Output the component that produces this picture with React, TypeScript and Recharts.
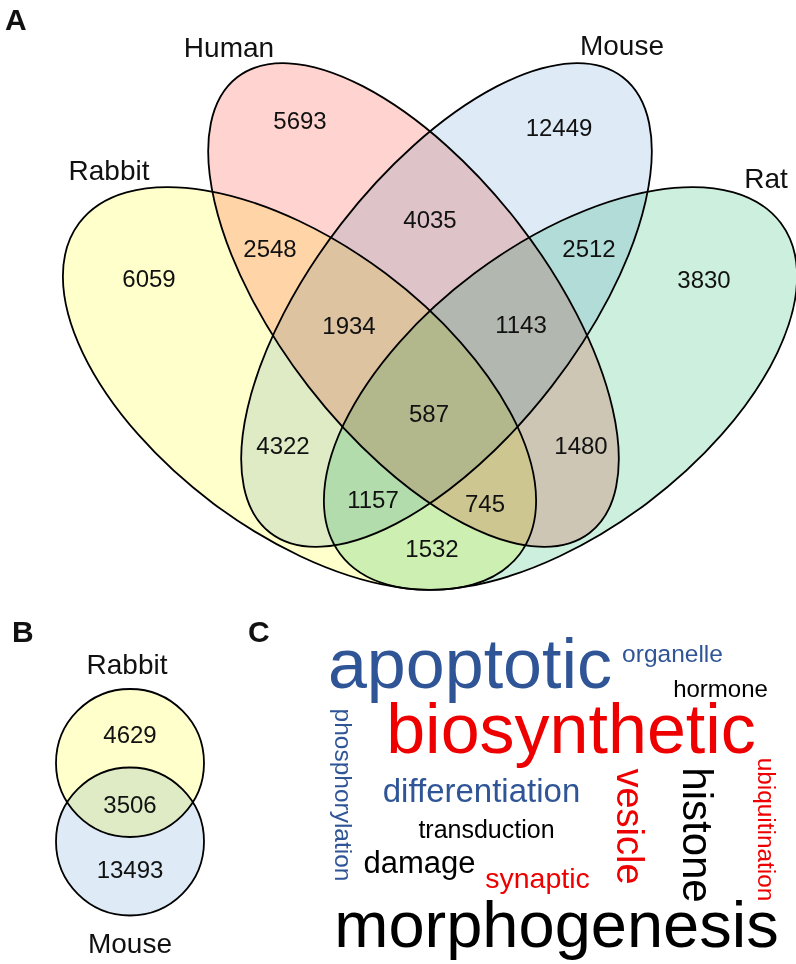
import { Scatter, ScatterChart, XAxis, YAxis } from 'recharts'

const W = 796
const H = 964
const FONT = '"Liberation Sans", Arial, Helvetica, sans-serif'

// ---- data ----
const SPECIES = ['Rabbit', 'Human', 'Mouse', 'Rat']
const REGION_COUNTS = [6059, 5693, 12449, 3830, 2548, 4035, 2512, 1934, 1143, 4322, 587, 1480, 1157, 745, 1532]
const PAIR_SPECIES = ['Rabbit', 'Mouse']
const PAIR_COUNTS = [4629, 3506, 13493]
const PANELS = ['A', 'B', 'C']
const WORDS = [
  'apoptotic',
  'organelle',
  'hormone',
  'biosynthetic',
  'differentiation',
  'transduction',
  'damage',
  'synaptic',
  'morphogenesis',
  'phosphorylation',
  'vesicle',
  'histone',
  'ubiquitination',
]

// ---- layout (chart units == px) ----
const SET_FILL = ['#ffffcc', '#ffd4d0', '#deebf7', '#cdefde']
const ELLIPSE_C = [
  [299.5, 388.5],
  [413.5, 305],
  [446.5, 305],
  [560.5, 388.5],
]
const ELLIPSE_R = [
  [275.5, 143.7],
  [288, 133],
  [288, 133],
  [275.5, 143.7],
]
const ELLIPSE_ROT = [36.9, 52.25, -52.25, -36.9]
const SPECIES_POS = [
  [109, 180],
  [229, 57],
  [622, 55],
  [766, 188],
]
const REGION_POS = [
  [149, 287], [300, 129], [559, 136], [704, 288], [270, 257],
  [430, 228], [589, 257], [349, 334], [521, 333], [283, 454],
  [429, 422], [581, 454], [373, 508], [485, 512], [432, 557],
]
const CIRCLE_C = [
  [130, 763],
  [130, 841.5],
]
const CIRCLE_FILL = ['#ffffcc', '#deebf7']
const PAIR_LABEL_POS = [
  [127, 674],
  [130, 953],
]
const PAIR_COUNT_POS = [
  [130, 743],
  [130, 813],
  [130, 878],
]
const PANEL_POS = [
  [5, 30],
  [12, 642],
  [248, 642],
]

const BLUE = '#2f5597'
const RED = '#ee0000'
const BLACK = '#000000'
// x, y (baseline), font size, colour, rotation
const WORD_LAYOUT: [number, number, number, string, number][] = [
  [470, 688, 70, BLUE, 0],
  [672.5, 662, 24.5, BLUE, 0],
  [720.5, 697, 24, BLACK, 0],
  [571, 753, 70, RED, 0],
  [481.5, 802, 33, BLUE, 0],
  [486.5, 838, 25, BLACK, 0],
  [419.5, 873, 31, BLACK, 0],
  [537.5, 888, 28.5, RED, 0],
  [556.5, 947, 65, BLACK, 0],
  [335, 795, 24.5, BLUE, 90],
  [617, 826.5, 38, RED, 90],
  [683, 835, 42, BLACK, 90],
  [758, 829.5, 24.4, RED, 90],
]

const ellipses = SPECIES.map((name, i) => ({
  name,
  x: ELLIPSE_C[i][0],
  y: ELLIPSE_C[i][1],
  rx: ELLIPSE_R[i][0],
  ry: ELLIPSE_R[i][1],
  rot: ELLIPSE_ROT[i],
  fill: SET_FILL[i],
}))
const circles = [1, 0].map((i) => ({
  name: PAIR_SPECIES[i],
  x: CIRCLE_C[i][0],
  y: CIRCLE_C[i][1],
  rx: 74,
  ry: 74,
  rot: 0,
  fill: CIRCLE_FILL[i],
}))
const speciesLabels = SPECIES.map((t, i) => ({ t, x: SPECIES_POS[i][0], y: SPECIES_POS[i][1] }))
const regionLabels = REGION_COUNTS.map((v, i) => ({ t: String(v), x: REGION_POS[i][0], y: REGION_POS[i][1] }))
const pairLabels = PAIR_SPECIES.map((t, i) => ({ t, x: PAIR_LABEL_POS[i][0], y: PAIR_LABEL_POS[i][1] }))
const pairCounts = PAIR_COUNTS.map((v, i) => ({ t: String(v), x: PAIR_COUNT_POS[i][0], y: PAIR_COUNT_POS[i][1] }))
const panelLabels = PANELS.map((t, i) => ({ t, x: PANEL_POS[i][0], y: PANEL_POS[i][1] }))
const words = WORDS.map((t, i) => {
  const [x, y, size, color, rot] = WORD_LAYOUT[i]
  return { t, x, y, size, color, rot }
})

const ellipseShape = (p: any) => (
  <ellipse
    cx={p.cx}
    cy={p.cy}
    rx={p.payload.rx}
    ry={p.payload.ry}
    transform={`rotate(${p.payload.rot} ${p.cx} ${p.cy})`}
    fill={p.payload.fill}
    stroke="#000"
    strokeWidth={1.8}
    style={{ mixBlendMode: 'multiply' }}
  />
)

const textShape = (size: number, anchor: 'middle' | 'start', weight = 400) => (p: any) => (
  <text
    x={p.cx}
    y={p.cy}
    textAnchor={anchor}
    fontSize={size}
    fontWeight={weight}
    fontFamily={FONT}
    fill="#111"
  >
    {p.payload.t}
  </text>
)

const wordShape = (p: any) => {
  const d = p.payload
  return (
    <text
      x={p.cx}
      y={p.cy}
      textAnchor="middle"
      fontSize={d.size}
      fontFamily={FONT}
      fill={d.color}
      transform={d.rot ? `rotate(${d.rot} ${p.cx} ${p.cy})` : undefined}
    >
      {d.t}
    </text>
  )
}

export default function App() {
  return (
    <div style={{ position: 'absolute', left: 0, top: 0, width: W, height: H, background: '#fff' }}>
      <ScatterChart width={W} height={H} margin={{ top: 0, right: 0, bottom: 0, left: 0 }}>
        <XAxis type="number" dataKey="x" domain={[0, W]} hide />
        <YAxis type="number" dataKey="y" domain={[0, H]} reversed hide />
        <Scatter data={ellipses} shape={ellipseShape} isAnimationActive={false} />
        <Scatter data={circles} shape={ellipseShape} isAnimationActive={false} />
        <Scatter data={speciesLabels} shape={textShape(28, 'middle')} isAnimationActive={false} />
        <Scatter data={regionLabels} shape={textShape(24, 'middle')} isAnimationActive={false} />
        <Scatter data={pairLabels} shape={textShape(28, 'middle')} isAnimationActive={false} />
        <Scatter data={pairCounts} shape={textShape(24, 'middle')} isAnimationActive={false} />
        <Scatter data={panelLabels} shape={textShape(30, 'start', 700)} isAnimationActive={false} />
        <Scatter data={words} shape={wordShape} isAnimationActive={false} />
      </ScatterChart>
    </div>
  )
}
